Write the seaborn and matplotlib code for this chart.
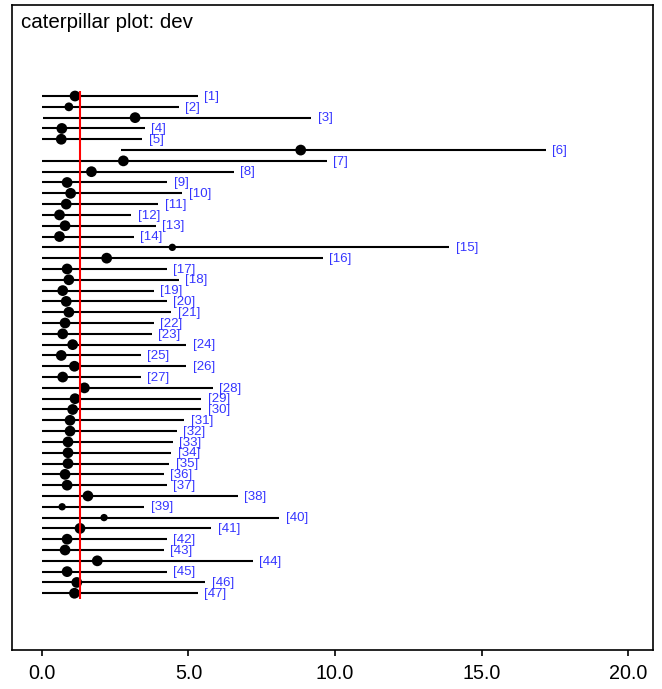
import numpy as np
import pandas as pd
import matplotlib
matplotlib.use("Agg")
import matplotlib.pyplot as plt
import seaborn as sns

# Data (node "dev")
node = list(range(1, 48))
lower = [0.0, 0.0, 0.05, 0.0, 0.0, 2.7, 0.0, 0.0, 0.0, 0.0,
         0.0, 0.0, 0.0, 0.0, 0.0, 0.0, 0.0, 0.0, 0.0, 0.0,
         0.0, 0.0, 0.0, 0.0, 0.0, 0.0, 0.0, 0.0, 0.0, 0.0,
         0.0, 0.0, 0.0, 0.0, 0.0, 0.0, 0.0, 0.0, 0.0, 0.0,
         0.0, 0.0, 0.0, 0.0, 0.0, 0.0, 0.0]
median = [1.13, 0.92, 3.18, 0.68, 0.66, 8.83, 2.78, 1.69, 0.86, 0.98,
          0.83, 0.60, 0.79, 0.60, 4.45, 2.21, 0.86, 0.92, 0.71, 0.83,
          0.92, 0.79, 0.71, 1.05, 0.66, 1.11, 0.71, 1.45, 1.13, 1.05,
          0.96, 0.96, 0.89, 0.89, 0.89, 0.79, 0.86, 1.57, 0.69, 2.12,
          1.30, 0.86, 0.79, 1.89, 0.86, 1.19, 1.11]
upper = [5.33, 4.68, 9.19, 3.51, 3.43, 17.2, 9.73, 6.55, 4.28, 4.79,
         3.97, 3.05, 3.90, 3.13, 13.9, 9.59, 4.27, 4.68, 3.82, 4.27,
         4.42, 3.82, 3.75, 4.93, 3.38, 4.93, 3.38, 5.84, 5.44, 5.44,
         4.86, 4.60, 4.48, 4.42, 4.35, 4.16, 4.27, 6.68, 3.50, 8.10,
         5.78, 4.27, 4.16, 7.20, 4.27, 5.58, 5.33]
overall_mean = 1.30
x_ticks = [0, 5, 10, 15, 20]

df = pd.DataFrame({"node": node, "lower": lower, "median": median, "upper": upper})

sns.set_style("white")
plt.rcParams['font.family'] = ['Liberation Sans', 'DejaVu Sans']

fig = plt.figure(figsize=(6.62, 6.89), dpi=100)
ax = fig.add_axes([0.0177, 0.0566, 0.9687, 0.9366])

# intervals
ax.hlines(df["node"], df["lower"], df["upper"], color="black", lw=1.5, zorder=2)

# medians (a few nodes drawn with smaller points, as in the reference)
small_dots = [15, 39, 40]
df["size"] = np.where(df["node"].isin(small_dots), 28, 60)
df.loc[df["node"] == 2, "size"] = 40
sns.scatterplot(data=df, x="median", y="node", size="size", sizes=(28, 60),
                color="black", edgecolor=None, linewidth=0, legend=False,
                ax=ax, zorder=3)

# overall mean
ax.vlines(overall_mean, 0.5, 47.5, color="red", lw=1.5, zorder=4)

# node labels
for _, r in df.iterrows():
    ax.annotate(f"[{int(r['node'])}]", (r["upper"], r["node"]),
                xytext=(4.5, -0.5), textcoords="offset points",
                ha="left", va="center", fontsize=9.5, color="#3535ff")

ax.text(0.014, 0.9634, "caterpillar plot: dev", transform=ax.transAxes,
        ha="left", va="baseline", fontsize=14.8, color="black")

ax.set_xlim(-1.03, 20.85)
ax.set_ylim(52.25, -7.45)
ax.set_xticks(x_ticks)
ax.set_xticklabels([f"{t:.1f}" for t in x_ticks], fontsize=14.2)
ax.set_yticks([])
ax.set_xlabel("")
ax.set_ylabel("")
ax.tick_params(axis="x", direction="out", length=4.3, width=1.2, pad=5.5,
               bottom=True, colors="black")
for s in ax.spines.values():
    s.set_visible(True)
    s.set_color("black")
    s.set_linewidth(1.2)

fig.savefig("out.png", dpi=100)
